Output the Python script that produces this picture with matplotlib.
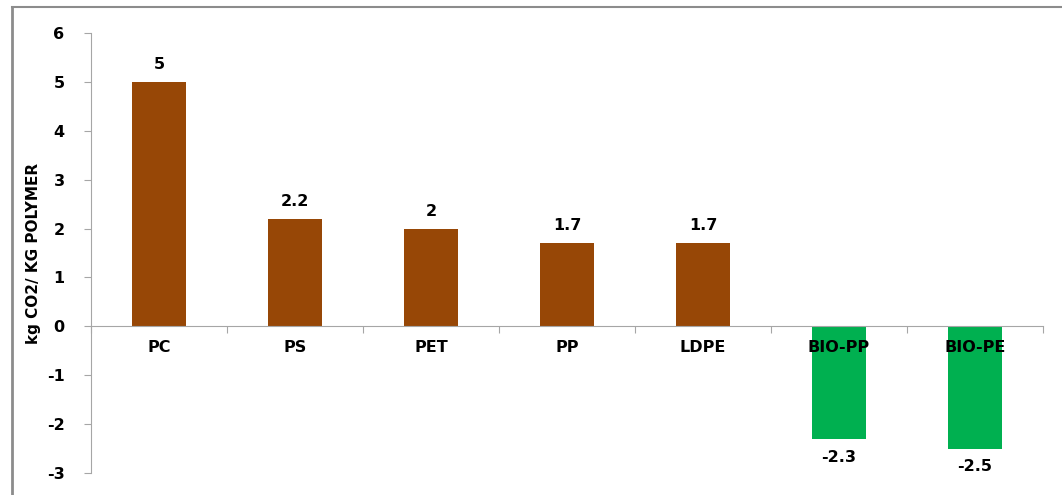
import matplotlib.pyplot as plt
from matplotlib.lines import Line2D
import numpy as np

polymers = ['PC', 'PS', 'PET', 'PP', 'LDPE', 'BIO-PP', 'BIO-PE']
co2 = [5, 2.2, 2, 1.7, 1.7, -2.3, -2.5]
value_labels = ['5', '2.2', '2', '1.7', '1.7', '-2.3', '-2.5']
y_ticks = [-3, -2, -1, 0, 1, 2, 3, 4, 5, 6]

brown = '#974706'
green = '#00B050'
grey = '#A6A6A6'

plt.rcParams['font.family'] = ['DejaVu Sans']
plt.rcParams['font.weight'] = 'bold'

fig = plt.figure(figsize=(10.62, 4.95), dpi=100)
ax = fig.add_axes([91 / 1062, 1 - 473 / 495, (1043 - 91) / 1062, (473 - 33) / 495])

x = np.arange(len(polymers))
colors = [brown if v >= 0 else green for v in co2]
ax.bar(x, co2, width=0.4, color=colors, zorder=1)

# value labels
for xi, v, lab in zip(x, co2, value_labels):
    if v >= 0:
        ax.text(xi, v + 0.2, lab, ha='center', va='bottom', fontsize=11.5, fontweight='bold')
    else:
        ax.text(xi, v - 0.22, lab, ha='center', va='top', fontsize=11.5, fontweight='bold')

ax.set_xlim(-0.5, len(polymers) - 0.5)
ax.set_ylim(-3, 6)
ax.set_yticks(y_ticks)
ax.set_yticklabels([str(t) for t in y_ticks])

# category ticks between bars, labels at bar centres
ax.set_xticks(np.arange(len(polymers) + 1) - 0.5)
ax.set_xticklabels([])
ax.set_xticks(x, minor=True)
ax.set_xticklabels(polymers, minor=True)
ax.tick_params(axis='x', which='minor', length=0, pad=10, labelsize=11.5)
ax.tick_params(axis='x', which='major', length=5, color=grey, direction='out')
ax.tick_params(axis='y', length=5, color=grey, direction='out', pad=14, labelsize=11.5)

ax.spines['bottom'].set_position(('data', 0))
ax.spines['bottom'].set_color(grey)
ax.spines['left'].set_color(grey)
ax.spines['top'].set_visible(False)
ax.spines['right'].set_visible(False)

ax.set_ylabel('kg CO2/ KG POLYMER', fontsize=11, fontweight='bold', labelpad=4)

# outer chart frame
fig.add_artist(Line2D([12 / 1062, 1], [1 - 7 / 495] * 2, color='#8C8C8C', lw=1.5))
fig.add_artist(Line2D([12 / 1062] * 2, [0, 1 - 7 / 495], color='#8C8C8C', lw=2))

fig.savefig('out.png', dpi=100)
